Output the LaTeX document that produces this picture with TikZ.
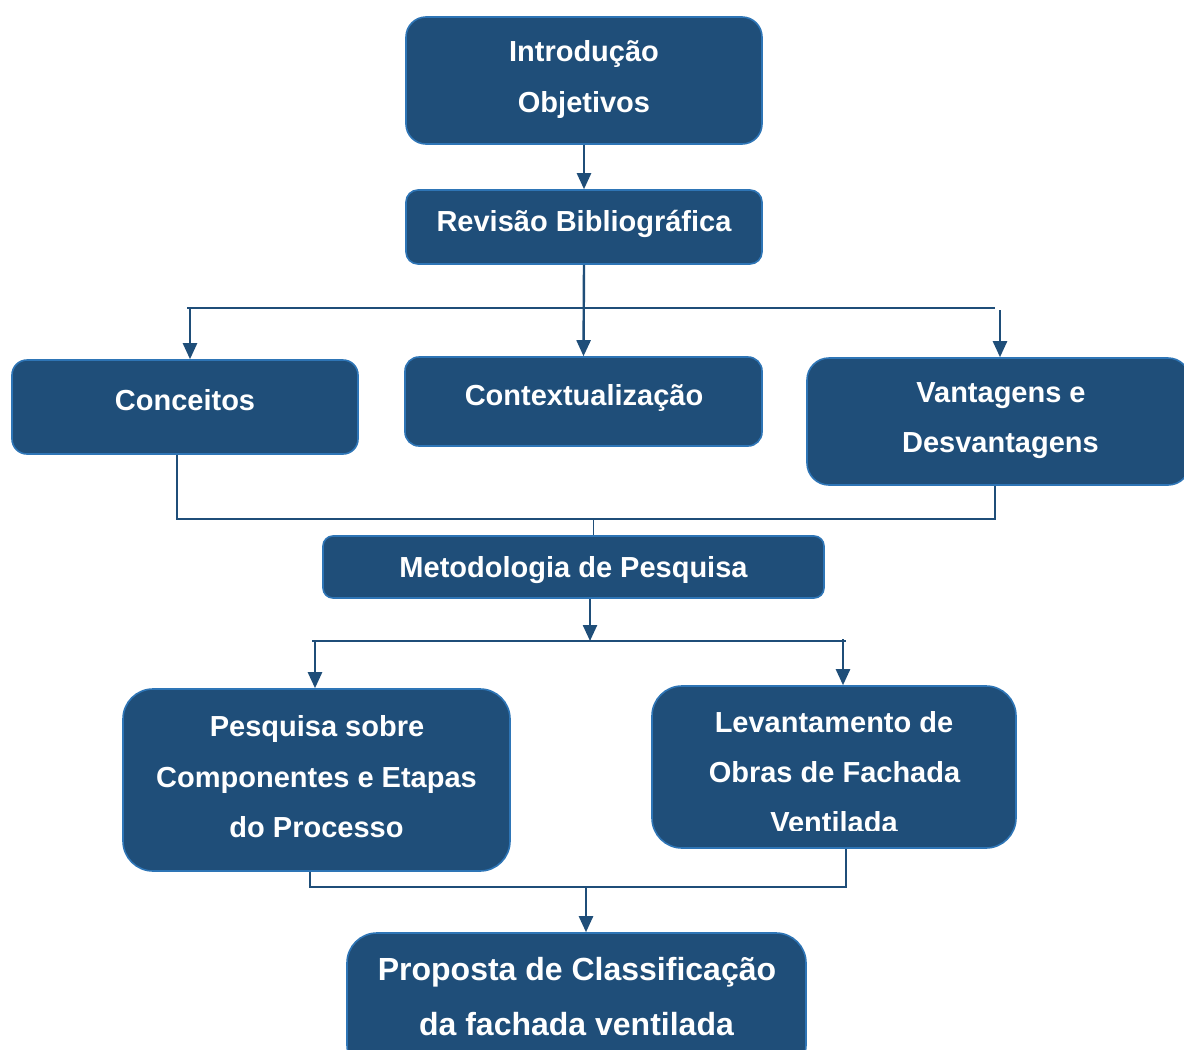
\documentclass[tikz,border=0pt]{standalone}
\usepackage{fontspec}
\setmainfont{Liberation Sans}
\usetikzlibrary{arrows.meta,calc}
\definecolor{boxfill}{RGB}{31,78,121}
\definecolor{boxedge}{RGB}{46,117,182}
\definecolor{wire}{RGB}{31,78,121}

\begin{document}
\begin{tikzpicture}[x=1pt,y=-1pt,
  box/.style={draw=boxedge, fill=boxfill, line width=1.6pt, inner sep=0pt, rounded corners=#1},
  box/.default=12pt,
  txt/.style={text=white, font=\bfseries\fontsize{29}{35}\selectfont, anchor=base, inner sep=0pt},
  big/.style={txt, font=\bfseries\fontsize{32}{38}\selectfont},
  arr/.style={draw=wire, line width=2.4pt, -{Triangle[width=14pt,length=16pt]}},
  wirethin/.style={draw=wire, line width=1.3pt},
]
\useasboundingbox (0,0) rectangle (1184,1050);
\fill[white] (0,0) rectangle (1184,1050);
\clip (0,0) rectangle (1184,1050);

% ---- boxes ----
\node[box=20pt, minimum width=356pt, minimum height=127pt] (b1) at (584,80.5) {};
\node[box=12pt, minimum width=356pt, minimum height=74pt]  (b2) at (584,227) {};
\node[box=15pt, minimum width=346pt, minimum height=94pt]  (b3) at (185,407) {};
\node[box=14pt, minimum width=357pt, minimum height=89pt]  (b4) at (583.5,401.5) {};
\node[box=22pt, minimum width=383pt, minimum height=127pt] (b5) at (998.5,421.5) {};
\node[box=10pt, minimum width=501pt, minimum height=62pt]  (b6) at (573.5,567) {};
\node[box=30pt, minimum width=387pt, minimum height=182pt] (b7) at (316.5,780) {};
\node[box=30pt, minimum width=364pt, minimum height=162pt] (b8) at (834,767) {};
\node[box=30pt, minimum width=459pt, minimum height=142pt] (b9) at (576.5,1004) {};

% ---- texts ----
\node[txt] (t1a) at (584,61)  {Introdução};
\node[txt] (t1b) at (584,112) {Objetivos};
\node[txt] (t2)  at (584,231) {Revisão Bibliográfica};
\node[txt] (t3)  at (185,410) {Conceitos};
\node[txt] (t4)  at (584,405) {Contextualização};
\node[txt] (t5a) at (1001,402) {Vantagens e};
\node[txt] (t5b) at (1000.5,452) {Desvantagens};
\node[txt] (t6)  at (573.5,577) {Metodologia de Pesquisa};
\node[txt] (t7a) at (317,736) {Pesquisa sobre};
\node[txt] (t7b) at (316.5,787) {Componentes e Etapas};
\node[txt] (t7c) at (316.5,837) {do Processo};
\node[txt] (t8a) at (834,732) {Levantamento de};
\node[txt] (t8b) at (834.5,782) {Obras de Fachada};
\begin{scope}
  \clip (652,686) rectangle (1016,830);
  \node[txt] (t8c) at (834,832) {Ventilada};
\end{scope}
\node[big] (t9a) at (577,980.5) {Proposta de Classificação};
\node[big] (t9b) at (576.5,1035) {da fachada ventilada};

% ---- connectors: top part ----
\draw[arr] (b1.south) -- (b2.north);
\coordinate (barL) at (187,308);
\coordinate (barR) at (995,308);
\draw[wirethin] (barL) -- (barR);
\draw[arr] (b2.south) -- (b4.north);
\coordinate (d3) at (190,308);
\coordinate (d5) at (1000,310);
\draw[arr] (d3) -- (d3 |- b3.north);
\draw[arr] (d5) -- (d5 |- b5.north);

% ---- join into the methodology box ----
\coordinate (j3) at (177,519);
\coordinate (j5) at (995,519);
\coordinate (jm) at (593,519);
\draw[wirethin] (j3 |- b3.south) -- (j3) -- (j5) -- (j5 |- b5.south);
\draw[draw=wire, line width=0.8pt] (jm) -- (jm |- b6.north);

% ---- split below the methodology box ----
\coordinate (sL) at (312,641);
\coordinate (sR) at (846,641);
\coordinate (sm) at (590,641);
\draw[wirethin] (sL) -- (sR);
\draw[arr] (sm |- b6.south) -- (sm);
\coordinate (s7) at (315,641);
\coordinate (s8) at (843,639);
\draw[arr] (s7) -- (s7 |- b7.north);
\draw[arr] (s8) -- (s8 |- b8.north);

% ---- join into the proposal box ----
\coordinate (k7) at (310,887);
\coordinate (k8) at (846,887);
\coordinate (km) at (586,887);
\draw[wirethin] (k7 |- b7.south) -- (k7) -- (k8) -- (k8 |- b8.south);
\draw[arr] (km) -- (km |- b9.north);
\end{tikzpicture}
\end{document}
